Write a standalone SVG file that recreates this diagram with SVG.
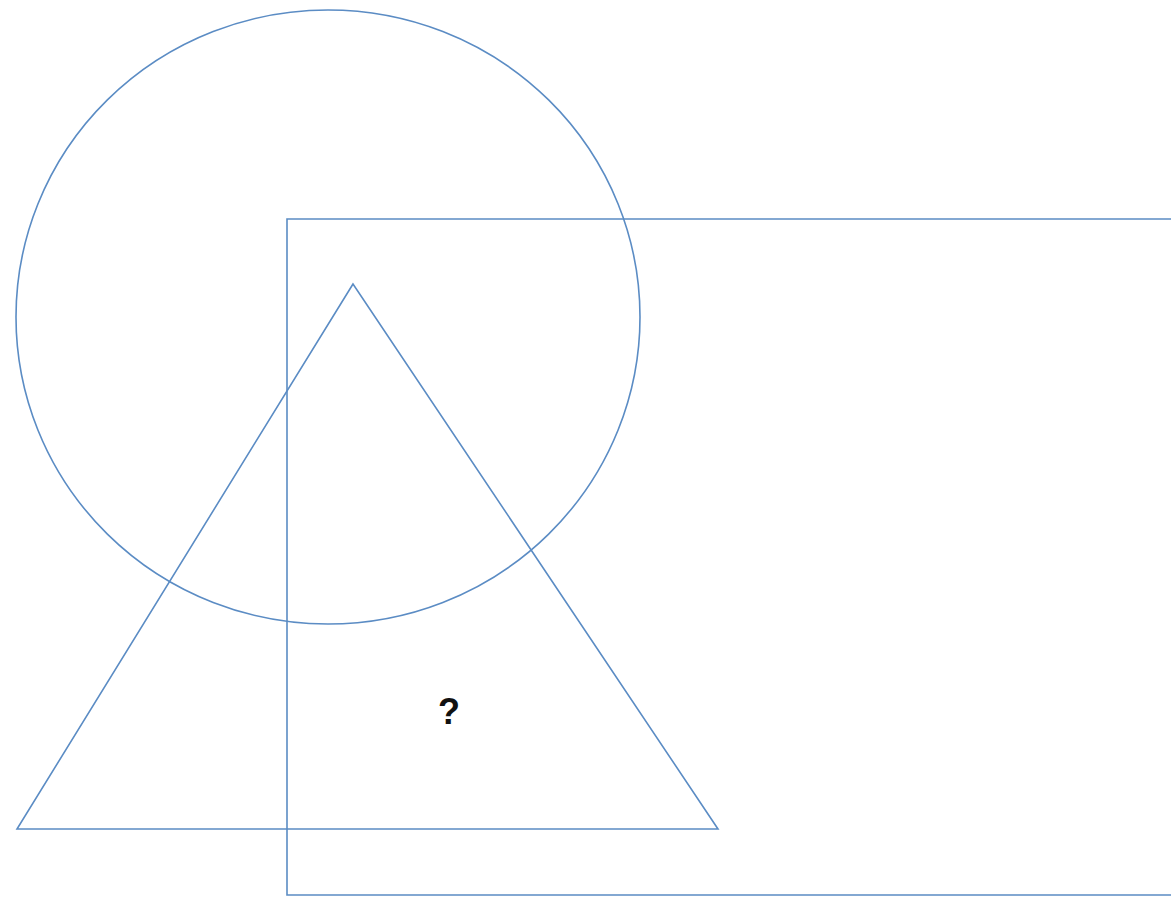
<svg xmlns="http://www.w3.org/2000/svg" width="1171" height="897" viewBox="0 0 1171 897">
  <style>
    .shape { fill: none; stroke: #5b8cc4; stroke-width: 1.6; }
    .label { font-family: "Liberation Sans", Arial, sans-serif; font-weight: bold; font-size: 36px; fill: #111; text-anchor: middle; }
  </style>
  <rect x="0" y="0" width="1171" height="897" fill="#ffffff"/>
  <g id="circle">
    <ellipse class="shape" cx="328" cy="317" rx="312" ry="307"/>
  </g>
  <g id="rectangle">
    <path class="shape" d="M1175 219 H287 V895 H1175"/>
  </g>
  <g id="triangle">
    <polygon class="shape" points="353,284 17,829 718,829"/>
  </g>
  <g id="question">
    <text class="label" x="449" y="724">?</text>
  </g>
  <g id="connectors"></g>
</svg>
